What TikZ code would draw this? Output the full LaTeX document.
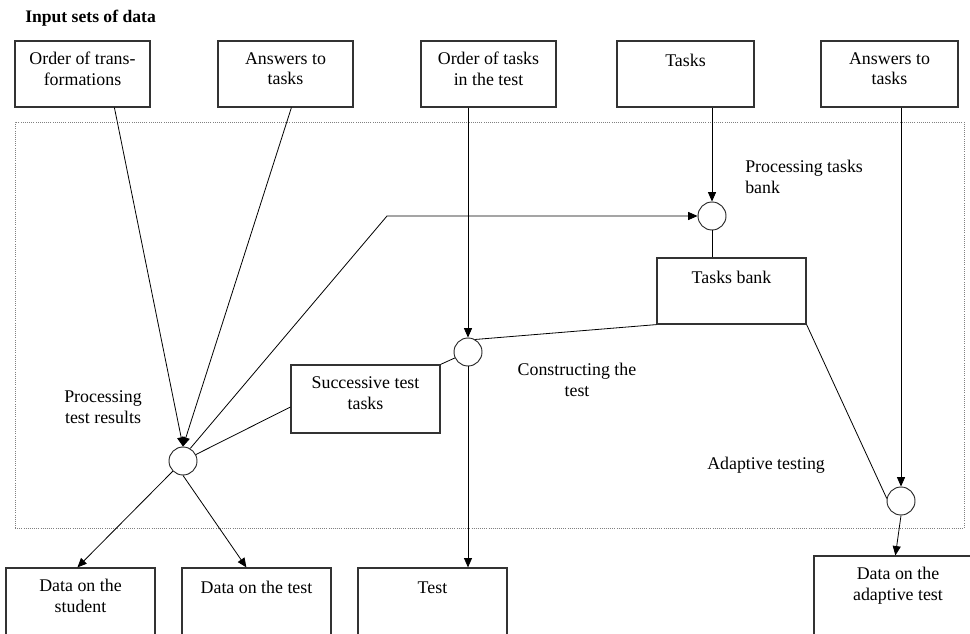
\documentclass[tikz,border=0pt]{standalone}
\usepackage{fontspec}
\setmainfont{Liberation Serif}
\usetikzlibrary{arrows.meta,fit,calc}
\begin{document}
\begin{tikzpicture}[x=0.75pt,y=-0.75pt,
  box/.style={draw=black!80, line width=0.9pt, inner sep=0pt, rectangle},
  lbl/.style={anchor=north, inner sep=0pt, align=center, font=\fontsize{13.4}{15.6}\selectfont, yshift=-8.8pt, execute at begin node=\strut},
  txt/.style={inner sep=0pt, align=center, font=\fontsize{13.4}{15.6}\selectfont},
  circ/.style={draw=black!85, circle, minimum size=21pt, inner sep=0pt, line width=0.7pt},
  con/.style={draw, line width=0.6pt},
  arr/.style={con, -{Triangle[length=7pt,width=6pt]}},
  region/.style={draw=black!50, densely dotted, line width=0.6pt, inner sep=0pt},
]
\useasboundingbox (0,0) rectangle (970,634);
\clip (0,0) rectangle (970,634);

\node[anchor=base west, inner sep=0pt, font=\bfseries\fontsize{13.2}{15}\selectfont] (title) at (25,23) {Input sets of data};

\node[region, fit={(15,122)(964,528)}] (area) {};

\node[box, fit={(15,41)(150,107)}, label={[lbl]north:{Order of trans-\\formations}}] (b1) {};
\node[box, fit={(218,41)(353,107)}, label={[lbl]north:{Answers to\\tasks}}] (b2) {};
\node[box, fit={(421,41)(556,107)}, label={[lbl]north:{Order of tasks\\in the test}}] (b3) {};
\node[box, fit={(617,41)(754,107)}, label={[lbl]north:{Tasks}}] (b4) {};
\node[box, fit={(821,41)(958,107)}, label={[lbl]north:{Answers to\\tasks}}] (b5) {};
\node[box, fit={(657,258)(806,324)}, label={[lbl]north:{Tasks bank}}] (tb) {};
\node[box, fit={(291,365)(440,433)}, label={[lbl]north:{Successive test\\tasks}}] (sb) {};
\node[box, fit={(6,568)(155,650)}, label={[lbl]north:{Data on the\\student}}] (d1) {};
\node[box, fit={(182,568)(331,650)}, label={[lbl]north:{Data on the test}}] (d2) {};
\node[box, fit={(358,568)(507,650)}, label={[lbl]north:{Test}}] (d3) {};
\node[box, fit={(814,556)(990,650)}, label={[lbl, xshift=-3pt]north:{Data on the\\adaptive test}}] (d4) {};

\node[circ] (cp) at (183,461) {};
\node[circ] (cc) at (468,352) {};
\node[circ] (cb) at (712,216) {};
\node[circ] (ca) at (901,501) {};

\node[txt, align=left, anchor=west] (l1) at (745,177) {Processing tasks\\bank};
\node[txt] (l2) at (577,380) {Constructing the\\test};
\node[txt] (l3) at (103,407) {Processing\\test results};
\node[txt, anchor=west] (l4) at (707,465) {Adaptive testing};

\coordinate (k) at (387,216);

\draw[arr] ($(b1.south west)+(100,0)$) -- (cp.north);
\draw[arr] ($(b2.south west)+(74,0)$) -- (cp.north);
\draw[arr] (cp.60) -- (k) -- (cb.west);
\draw[con] ($(sb.west)+(0,8)$) -- (cp);
\draw[con] (sb.north east) -- (cc);
\draw[arr] (cc.north |- b3.south) -- (cc.north);
\draw[con] (tb.south west) -- (cc.60);
\draw[arr] (cc.south) -- (cc.south |- d3.north);
\draw[arr] (cb.north |- b4.south) -- (cb.north);
\draw[con] (cb.south) -- (cb.south |- tb.north);
\draw[con] (tb.south east) -- (ca.170);
\draw[arr] (ca.north |- b5.south) -- (ca.north);
\draw[arr] (ca.south) -- ($(d4.north west)+(82,0)$);
\draw[arr] (cp.225) -- ($(d1.north west)+(72,0)$);
\draw[arr] (cp.south) -- ($(d2.north west)+(65,0)$);
\end{tikzpicture}
\end{document}
